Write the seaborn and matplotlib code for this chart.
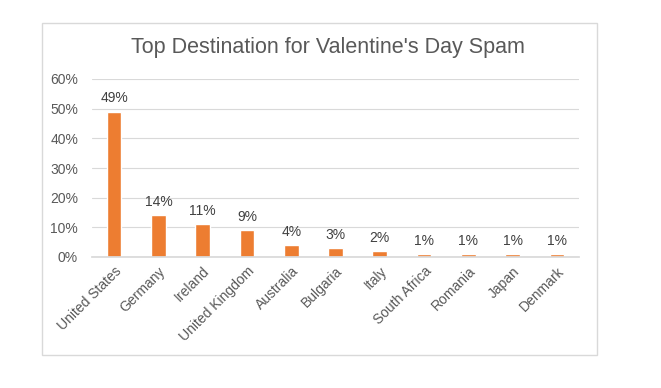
import matplotlib
matplotlib.use("Agg")
import matplotlib.pyplot as plt
import seaborn as sns
import pandas as pd
from matplotlib.patches import Rectangle
from matplotlib.ticker import PercentFormatter

countries = ["United States", "Germany", "Ireland", "United Kingdom", "Australia",
             "Bulgaria", "Italy", "South Africa", "Romania", "Japan", "Denmark"]
shares = [49, 14, 11, 9, 4, 3, 2, 1, 1, 1, 1]
title = "Top Destination for Valentine's Day Spam"

df = pd.DataFrame({"country": countries, "share": shares})

sns.set_theme(style="white")
plt.rcParams['font.family'] = ['Liberation Sans', 'DejaVu Sans']

W, H = 661, 388
fig = plt.figure(figsize=(W/100, H/100), dpi=100)
fig.patch.set_facecolor("white")
fig.patches.append(Rectangle((42/W, 1-355/H), (597-42)/W, (355-23)/H,
                             transform=fig.transFigure, fill=False,
                             edgecolor="#d9d9d9", linewidth=1))

ax = fig.add_axes([92/W, 1-257/H, (579-92)/W, (257-79)/H])
sns.barplot(data=df, x="country", y="share", color="#ED7D31", width=0.33,
            saturation=1, ax=ax)
ax.set_ylim(0, 60)
ax.set_yticks(range(0, 61, 10))
ax.yaxis.set_major_formatter(PercentFormatter(decimals=0))
ax.set_xlim(-0.5, len(countries)-0.5)
ax.grid(axis="y", color="#d9d9d9", linewidth=0.8)
ax.set_axisbelow(True)
for s in ["top", "right", "left"]:
    ax.spines[s].set_visible(False)
ax.spines["bottom"].set_color("#d9d9d9")
ax.set_xlabel("")
ax.set_ylabel("")
ax.tick_params(axis="both", length=0, labelsize=10, colors="#595959")
ax.tick_params(axis="y", pad=10)
ax.tick_params(axis="x", pad=5)
plt.setp(ax.get_xticklabels(), rotation=45, ha="right", rotation_mode="anchor")
for i, v in enumerate(shares):
    ax.text(i, v + 2.2, f"{v}%", ha="center", va="bottom", fontsize=10, color="#404040")

fig.text(328/W, 1-48/H, title, ha="center", va="center", fontsize=15.5, color="#595959")

fig.savefig("out.png", dpi=100)
